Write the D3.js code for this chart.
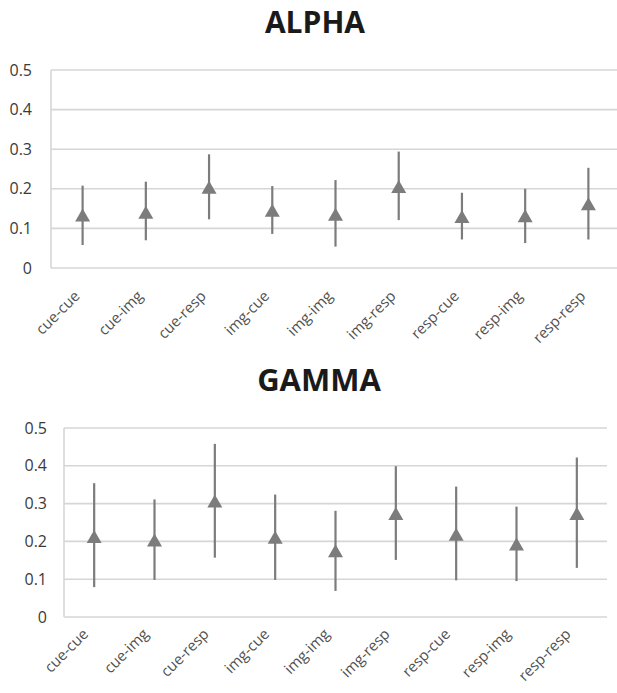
<!DOCTYPE html>
<html>
<head>
<meta charset="utf-8">
<script src="https://cdn.jsdelivr.net/npm/d3@7"></script>
<style>
  body { margin: 0; background: #fff; }
  svg { display: block; font-family: "Open Sans", "Noto Sans", sans-serif; }
  .title { font-weight: bold; fill: #1a1a1a; }
  .ylab { fill: #3a3a3a; font-size: 16px; }
  .xlab { fill: #505050; font-size: 15px; }
</style>
</head>
<body>
<svg id="chart" width="617" height="693"></svg>
<script>
'use strict';

const CATEGORIES = ['cue-cue', 'cue-img', 'cue-resp', 'img-cue', 'img-img',
                    'img-resp', 'resp-cue', 'resp-img', 'resp-resp'];
const Y_TICKS = [0, 0.1, 0.2, 0.3, 0.4, 0.5];

// ALPHA: mean, lower, upper
const ALPHA_MEAN  = [0.134, 0.141, 0.204, 0.146, 0.136, 0.206, 0.130, 0.132, 0.162];
const ALPHA_LOW   = [0.058, 0.070, 0.123, 0.086, 0.054, 0.121, 0.072, 0.063, 0.072];
const ALPHA_HIGH  = [0.208, 0.218, 0.287, 0.207, 0.222, 0.294, 0.190, 0.200, 0.253];

// GAMMA: mean, lower, upper
const GAMMA_MEAN  = [0.213, 0.204, 0.307, 0.211, 0.175, 0.274, 0.219, 0.193, 0.274];
const GAMMA_LOW   = [0.079, 0.098, 0.157, 0.098, 0.069, 0.151, 0.097, 0.095, 0.130];
const GAMMA_HIGH  = [0.354, 0.311, 0.458, 0.324, 0.281, 0.399, 0.345, 0.292, 0.422];

const MARK_COLOR = '#7c7c7c';
const GRID_COLOR = '#d6d6d6';
const TRI_W = 15;
const TRI_H = 13;

const svg = d3.select('#chart');

function drawPanel(cfg) {
  const g = svg.append('g');

  const x = d3.scaleBand()
    .domain(CATEGORIES)
    .range([cfg.left, cfg.right])
    .padding(0);

  const y = d3.scaleLinear()
    .domain([0, 0.5])
    .range([cfg.bottom, cfg.top]);

  const rows = CATEGORIES.map((c, i) => ({
    cat: c, mean: cfg.mean[i], low: cfg.low[i], high: cfg.high[i]
  }));

  // title
  g.append('text')
    .attr('class', 'title')
    .attr('x', cfg.titleX)
    .attr('y', cfg.titleY)
    .attr('text-anchor', 'middle')
    .attr('font-size', cfg.titleSize)
    .text(cfg.title);

  // gridlines
  g.append('g')
    .selectAll('line')
    .data(Y_TICKS)
    .join('line')
      .attr('x1', cfg.left)
      .attr('x2', cfg.right)
      .attr('y1', d => y(d))
      .attr('y2', d => y(d))
      .attr('stroke', GRID_COLOR)
      .attr('stroke-width', 1.6);

  // left axis line
  g.append('line')
    .attr('x1', cfg.left).attr('x2', cfg.left)
    .attr('y1', y(0.5)).attr('y2', y(0))
    .attr('stroke', GRID_COLOR)
    .attr('stroke-width', 1.6);

  // y labels
  g.append('g')
    .selectAll('text')
    .data(Y_TICKS)
    .join('text')
      .attr('class', 'ylab')
      .attr('x', cfg.labelRight)
      .attr('y', d => y(d))
      .attr('dy', '0.35em')
      .attr('text-anchor', 'end')
      .text(d => d === 0 ? '0' : d3.format('.1f')(d));

  // x labels
  g.append('g')
    .selectAll('text')
    .data(CATEGORIES)
    .join('text')
      .attr('class', 'xlab')
      .attr('text-anchor', 'end')
      .attr('transform', d =>
        `translate(${x(d) + x.bandwidth() / 2 + cfg.xlabDx},${y(0) + cfg.xlabDy}) rotate(-45)`)
      .text(d => d);

  // error bars
  g.append('g')
    .selectAll('line')
    .data(rows)
    .join('line')
      .attr('x1', d => x(d.cat) + x.bandwidth() / 2)
      .attr('x2', d => x(d.cat) + x.bandwidth() / 2)
      .attr('y1', d => y(d.low))
      .attr('y2', d => y(d.high))
      .attr('stroke', MARK_COLOR)
      .attr('stroke-width', 2.2);

  // triangle markers
  g.append('g')
    .selectAll('path')
    .data(rows)
    .join('path')
      .attr('fill', MARK_COLOR)
      .attr('d', d => {
        const cx = x(d.cat) + x.bandwidth() / 2;
        const cy = y(d.mean);
        return `M${cx},${cy - TRI_H / 2}L${cx + TRI_W / 2},${cy + TRI_H / 2}` +
               `L${cx - TRI_W / 2},${cy + TRI_H / 2}Z`;
      });
}

drawPanel({
  title: 'ALPHA', titleX: 315, titleY: 33, titleSize: 30,
  left: 51, right: 620, top: 70, bottom: 268, labelRight: 32,
  xlabDx: -2, xlabDy: 29,
  mean: ALPHA_MEAN, low: ALPHA_LOW, high: ALPHA_HIGH
});

drawPanel({
  title: 'GAMMA', titleX: 319, titleY: 391, titleSize: 31,
  left: 64, right: 607, top: 428, bottom: 617, labelRight: 47,
  xlabDx: -5, xlabDy: 18,
  mean: GAMMA_MEAN, low: GAMMA_LOW, high: GAMMA_HIGH
});
</script>
</body>
</html>
